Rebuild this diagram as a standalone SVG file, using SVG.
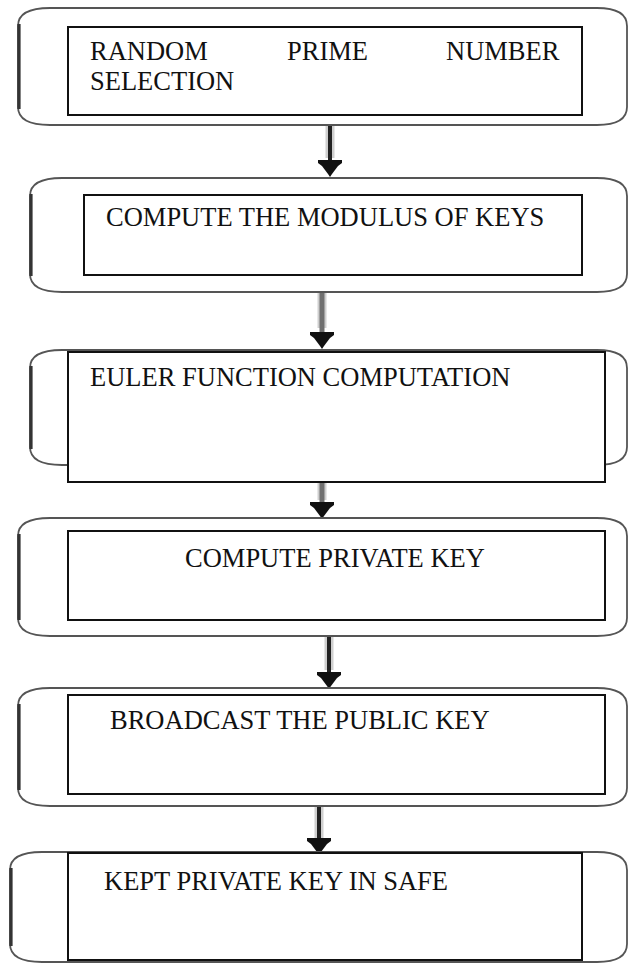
<svg xmlns="http://www.w3.org/2000/svg" width="628" height="964" viewBox="0 0 628 964">
  <style>
    .outer { fill: #fff; stroke: #555; stroke-width: 1.8; }
    .edge { fill: none; stroke: #333; stroke-width: 3.2; }
    .box { fill: #fff; stroke: #111; stroke-width: 2; }
    .lbl { font-family: "Liberation Serif", "Times New Roman", serif; font-size: 26.5px; fill: #111; }
    .shaft { stroke: #222; stroke-width: 4; }
    .shaft-grey { stroke: #707070; stroke-width: 5; }
    .halo { stroke: #cfcfcf; stroke-width: 9; }
    .head { fill: #111; }
  </style>
  <defs>
    <!-- stepped arrowhead, tip at (0,0) -->
    <polygon id="tip" class="head" points="-12,-17 12,-17 12,-14 8,-11 5,-7 2,-3 0,0 -2,-3 -5,-7 -8,-11 -12,-14"/>
  </defs>

  <rect width="628" height="964" fill="#fff"/>

  <!-- connectors -->
  <g id="connectors">
    <line class="halo" x1="330" y1="125" x2="330" y2="158"/>
    <line class="shaft" x1="330" y1="125" x2="330" y2="165"/>
    <use href="#tip" x="330" y="177"/>

    <line class="halo" x1="322" y1="292" x2="322" y2="328"/>
    <line class="shaft-grey" x1="322" y1="292" x2="322" y2="336"/>
    <use href="#tip" x="322" y="349"/>

    <line class="halo" x1="322" y1="482" x2="322" y2="500"/>
    <line class="shaft-grey" x1="322" y1="482" x2="322" y2="507"/>
    <use href="#tip" x="322" y="519"/>

    <line class="halo" x1="329" y1="636" x2="329" y2="670"/>
    <line class="shaft" x1="329" y1="636" x2="329" y2="677"/>
    <use href="#tip" x="329" y="689"/>

    <line class="halo" x1="319" y1="806" x2="319" y2="838"/>
    <line class="shaft" x1="319" y1="806" x2="319" y2="843"/>
    <use href="#tip" x="319" y="855"/>
  </g>

  <!-- step 1 -->
  <g id="n1">
    <path class="outer" d="M50,8 H597 Q627,8 627,26 V107 Q627,125 597,125 H50 Q18,125 18,107 V26 Q18,8 50,8 Z"/>
    <path class="edge" d="M19,24 V109"/>
    <rect class="box" x="68" y="27" width="514" height="88"/>
    <text class="lbl" y="60"><tspan x="90">RANDOM</tspan><tspan x="287">PRIME</tspan><tspan x="446">NUMBER</tspan></text>
    <text class="lbl" x="90" y="90">SELECTION</text>
  </g>

  <!-- step 2 -->
  <g id="n2">
    <path class="outer" d="M62,178 H597 Q627,178 627,196 V274 Q627,292 597,292 H62 Q30,292 30,274 V196 Q30,178 62,178 Z"/>
    <path class="edge" d="M31,194 V276"/>
    <rect class="box" x="84" y="195" width="498" height="80"/>
    <text class="lbl" x="106" y="226">COMPUTE THE MODULUS OF KEYS</text>
  </g>

  <!-- step 3 -->
  <g id="n3">
    <path class="outer" d="M62,350 H597 Q627,350 627,368 V447 Q627,465 597,465 H62 Q30,465 30,447 V368 Q30,350 62,350 Z"/>
    <path class="edge" d="M31,366 V449"/>
    <rect class="box" x="68" y="352" width="537" height="130"/>
    <text class="lbl" x="90" y="386">EULER FUNCTION COMPUTATION</text>
  </g>

  <!-- step 4 -->
  <g id="n4">
    <path class="outer" d="M50,518 H597 Q627,518 627,536 V618 Q627,636 597,636 H50 Q18,636 18,618 V536 Q18,518 50,518 Z"/>
    <path class="edge" d="M19,534 V620"/>
    <rect class="box" x="68" y="531" width="537" height="89"/>
    <text class="lbl" x="185" y="567">COMPUTE PRIVATE KEY</text>
  </g>

  <!-- step 5 -->
  <g id="n5">
    <path class="outer" d="M50,688 H597 Q627,688 627,706 V788 Q627,806 597,806 H50 Q18,806 18,788 V706 Q18,688 50,688 Z"/>
    <path class="edge" d="M19,704 V790"/>
    <rect class="box" x="68" y="695" width="537" height="99"/>
    <text class="lbl" x="110" y="729">BROADCAST THE PUBLIC KEY</text>
  </g>

  <!-- step 6 -->
  <g id="n6">
    <path class="outer" d="M42,852 H597 Q627,852 627,870 V944 Q627,962 597,962 H42 Q10,962 10,944 V870 Q10,852 42,852 Z"/>
    <path class="edge" d="M11,868 V946"/>
    <rect class="box" x="68" y="853" width="514" height="107"/>
    <text class="lbl" x="104" y="890">KEPT PRIVATE KEY IN SAFE</text>
  </g>
</svg>
